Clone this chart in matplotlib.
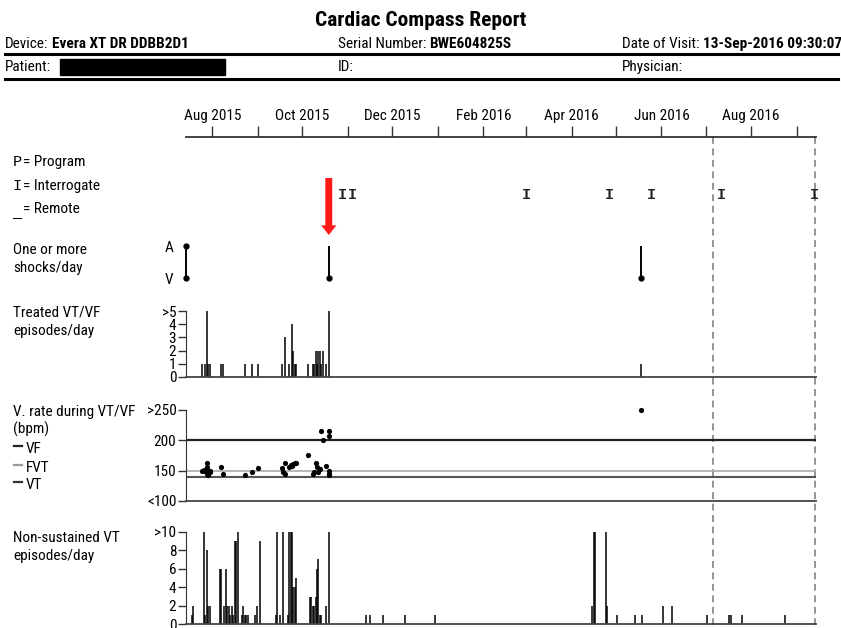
import matplotlib
matplotlib.use('Agg')
import matplotlib.pyplot as plt
import matplotlib.dates as mdates
from matplotlib import font_manager
from matplotlib.ticker import FuncFormatter
from matplotlib.patches import Rectangle
from matplotlib.lines import Line2D

# ---- data ----
start_date = '2015-07-14'
end_date = '2016-09-14'
dashed_dates = ['2016-07-06', '2016-09-13']
interrogate_dates = ['2015-10-28', '2015-11-04', '2016-03-01', '2016-04-27',
                     '2016-05-25', '2016-07-12', '2016-09-13']
arrow_date = '2015-10-19'

shock_dates = ['2015-10-19', '2016-05-18']

# treated VT/VF episodes per day (5 = ">5")
treated_dates = ['2015-07-25', '2015-07-27', '2015-07-28', '2015-07-29', '2015-07-30',
                 '2015-08-07', '2015-08-08', '2015-08-23', '2015-08-28', '2015-09-01',
                 '2015-09-17', '2015-09-19', '2015-09-22', '2015-09-24', '2015-09-25',
                 '2015-09-26', '2015-09-27', '2015-10-05', '2015-10-08', '2015-10-09',
                 '2015-10-10', '2015-10-11', '2015-10-12', '2015-10-13', '2015-10-14',
                 '2015-10-15', '2015-10-17', '2015-10-19', '2016-05-18']
treated_counts = [1, 1, 5, 1, 1,
                  1, 1, 1, 1, 1,
                  1, 3, 1, 4, 2,
                  1, 1, 1, 1, 1,
                  2, 1, 2, 2, 1,
                  2, 1, 5, 1]

# V. rate during VT/VF (bpm), 250 = ">250"
vrate_dates = ['2015-07-25', '2015-07-26', '2015-07-27', '2015-07-28', '2015-07-28',
               '2015-07-28', '2015-07-29', '2015-07-29', '2015-07-30', '2015-07-30',
               '2015-08-07', '2015-08-08', '2015-08-23', '2015-08-28', '2015-09-01',
               '2015-09-17', '2015-09-18', '2015-09-19', '2015-09-19', '2015-09-22',
               '2015-09-23', '2015-09-24', '2015-09-25', '2015-09-26', '2015-09-27',
               '2015-10-05', '2015-10-08', '2015-10-09', '2015-10-10', '2015-10-11',
               '2015-10-12', '2015-10-13', '2015-10-14', '2015-10-15', '2015-10-17',
               '2015-10-19', '2015-10-19', '2015-10-19', '2015-10-19', '2015-10-19',
               '2016-05-18']
vrate_bpm = [150, 151, 150, 163, 156,
             145, 150, 143, 150, 148,
             155, 145, 142, 147, 154,
             154, 148, 144, 163, 156,
             159, 157, 161, 162, 162,
             175, 145, 148, 163, 156,
             148, 152, 214, 200, 158,
             214, 207, 150, 145, 142,
             250]

# thresholds
vf_rate = 200
fvt_rate = 150
vt_rate = 140

# non-sustained VT episodes per day (10 = ">10")
nsvt_dates = ['2015-07-18', '2015-07-19', '2015-07-26', '2015-07-27', '2015-07-28',
              '2015-07-29', '2015-07-30', '2015-08-06', '2015-08-07', '2015-08-09',
              '2015-08-10', '2015-08-11', '2015-08-12', '2015-08-13', '2015-08-14',
              '2015-08-15', '2015-08-16', '2015-08-17', '2015-08-18', '2015-08-21',
              '2015-08-22', '2015-08-23', '2015-08-24', '2015-08-25', '2015-08-30',
              '2015-08-31', '2015-09-02', '2015-09-13', '2015-09-14', '2015-09-16',
              '2015-09-18', '2015-09-21', '2015-09-22', '2015-09-23', '2015-09-24',
              '2015-09-25', '2015-09-26', '2015-09-27', '2015-10-06', '2015-10-07',
              '2015-10-08', '2015-10-09', '2015-10-10', '2015-10-11', '2015-10-12',
              '2015-10-13', '2015-10-14', '2015-10-17', '2015-10-19', '2015-11-13',
              '2015-11-16', '2015-11-25', '2015-12-10', '2015-12-30', '2016-04-15',
              '2016-04-16', '2016-04-17', '2016-04-24', '2016-04-25', '2016-05-02',
              '2016-05-14', '2016-05-19', '2016-06-02', '2016-06-08', '2016-07-02',
              '2016-07-17', '2016-07-18', '2016-07-26', '2016-08-24']
nsvt_counts = [1, 2, 10, 1, 8,
               2, 2, 6, 6, 2,
               6, 2, 2, 1, 2,
               1, 9, 9, 10, 1,
               2, 1, 1, 1, 1,
               2, 9, 1, 10, 1,
               10, 1, 10, 10, 10,
               4, 4, 5, 3, 3,
               2, 2, 3, 6, 7,
               1, 1, 2, 10, 1,
               1, 1, 1, 1, 2,
               10, 10, 10, 2, 1,
               1, 1, 2, 2, 1,
               1, 1, 1, 1]

# ---- font: the report uses a narrow sans, pick the closest one installed ----
installed = font_manager.fontManager.ttflist
names = {f.name for f in installed}
FONT, STRETCH, FS = 'Liberation Sans', 'normal', 9.5
for cand in ['Liberation Sans Narrow', 'Roboto Condensed', 'Open Sans Condensed',
             'DejaVu Sans Condensed']:
    if cand in names:
        FONT, STRETCH, FS = cand, 'normal', 11
        break
else:
    for f in installed:
        if f.stretch == 'condensed' and f.name in ('DejaVu Sans', 'Roboto', 'Open Sans', 'Noto Sans', 'Inter'):
            FONT, STRETCH, FS = f.name, 'condensed', 10.5
            break

plt.rcParams['font.family'] = [FONT, 'DejaVu Sans']
plt.rcParams['font.stretch'] = STRETCH
plt.rcParams['font.size'] = FS
MONO = ['Liberation Mono', 'DejaVu Sans Mono']
W, H = 841, 628
fig = plt.figure(figsize=(W / 100, H / 100), dpi=100)


def fx(x):
    return x / W


def fy(y):
    return 1 - y / H


def txt(x, y, s, **kw):
    kw.setdefault('va', 'center')
    return fig.text(fx(x), fy(y), s, **kw)


def d(dates):
    return mdates.datestr2num(dates)


x0, x1 = d(start_date), d(end_date)


def panel(top, bottom):
    ax = fig.add_axes([fx(186), fy(bottom), 630 / W, (bottom - top) / H])
    ax.set_facecolor('none')
    ax.set_xlim(x0, x1)
    ax.set_xticks([])
    for s in ['top', 'right']:
        ax.spines[s].set_visible(False)
    ax.spines['left'].set_color('#333333')
    ax.spines['bottom'].set_color('#444444')
    ax.spines['bottom'].set_linewidth(1.3)
    ax.tick_params(axis='y', length=6, width=1, pad=1, labelsize=FS, color='#333333')
    return ax


# header
txt(421, 20, 'Cardiac Compass Report', ha='center', fontsize=FS * 1.4, fontweight='bold')
fig.canvas.draw()
renderer = fig.canvas.get_renderer()


def pair(x, y, label, value):
    t = txt(x, y, label)
    if value:
        bb = t.get_window_extent(renderer=renderer)
        txt(bb.x1 + 3, y, value, fontweight='bold')


pair(5, 44, 'Device:', 'Evera XT DR DDBB2D1')
pair(338, 44, 'Serial Number:', 'BWE604825S')
pair(622, 44, 'Date of Visit:', '13-Sep-2016 09:30:07')
pair(5, 67, 'Patient:', '')
pair(338, 67, 'ID:', '')
pair(622, 67, 'Physician:', '')
for yy in [54, 79]:
    fig.add_artist(Line2D([fx(5), fx(838)], [fy(yy), fy(yy)], transform=fig.transFigure,
                          color='black', lw=2.2))
fig.add_artist(Rectangle((fx(60), fy(75)), fx(225) - fx(60), 16 / H,
                         transform=fig.transFigure, color='black'))

# timeline axis, dashed lines, interrogations
tl = fig.add_axes([fx(186), fy(628), 630 / W, (628 - 137) / H])
tl.set_facecolor('none')
tl.set_xlim(x0, x1)
tl.set_ylim(137, 628)
tl.invert_yaxis()
for s in ['left', 'right', 'bottom']:
    tl.spines[s].set_visible(False)
tl.spines['top'].set_linewidth(1.3)
tl.spines['top'].set_color('#333333')
tl.set_yticks([])
tl.xaxis.tick_top()
tl.xaxis.set_major_locator(mdates.MonthLocator())


def month_label(v, pos):
    dt = mdates.num2date(v)
    return dt.strftime('%b %Y') if dt.month % 2 == 0 else ''


tl.xaxis.set_major_formatter(FuncFormatter(month_label))
tl.tick_params(axis='x', direction='out', length=8, width=1, pad=2, labelsize=FS, color='#333333')
tl.vlines(d(dashed_dates), 137, 628, colors='#777777', lw=1.1, linestyles=(0, (4.5, 3)))
for xi in d(interrogate_dates):
    tl.text(xi, 195, 'I', family=MONO, fontsize=11, fontweight='bold', ha='center', va='center',
            color='#222222')
ax_ = d(arrow_date)
tl.annotate('', xy=(ax_, 235), xytext=(ax_, 178),
            arrowprops=dict(facecolor='#ff1a1a', edgecolor='none', width=5, headwidth=11,
                            headlength=7, shrink=0))

# legend block
txt(13, 162, 'P', family=MONO)
txt(23, 162, '= Program')
txt(13, 186, 'I', family=MONO)
txt(23, 186, '= Interrogate')
txt(12, 213, '_', family=MONO)
txt(23, 209, '= Remote')

# shocks
txt(13, 250, 'One or more')
txt(13, 268, 'shocks/day')
sh = panel(246, 278)
sh.set_ylim(0, 1)
for s in sh.spines.values():
    s.set_visible(False)
sx = d(shock_dates)
sh.vlines(sx, 0, 1, color='black', lw=1.4)
sh.plot(sx, [0] * len(sx), 'o', color='black', ms=3.5, clip_on=False)
sh.plot([x0, x0], [0, 1], '-o', color='black', ms=3.5, lw=1.4, clip_on=False)
sh.set_yticks([0, 1], ['V', 'A'])
sh.tick_params(axis='y', length=0, pad=9)

# treated VT/VF
txt(13, 313, 'Treated VT/VF')
txt(13, 331, 'episodes/day')
tr = panel(311, 377)
tr.set_ylim(0, 5)
tr.vlines(d(treated_dates), 0, treated_counts, color='black', lw=1.1)
tr.set_yticks(range(6), ['0', '1', '2', '3', '4', '>5'])

# V. rate
txt(13, 412, 'V. rate during VT/VF')
txt(13, 429, '(bpm)')
for yy, name, c in [(446, 'VF', '#222222'), (465, 'FVT', '#999999'), (482, 'VT', '#333333')]:
    fig.add_artist(Line2D([fx(14), fx(22)], [fy(yy), fy(yy)], transform=fig.transFigure,
                          color=c, lw=1.6))
    txt(26, yy + 3, name)
vr = panel(409.5, 501)
vr.set_ylim(100, 250)
vr.axhline(vf_rate, color='#222222', lw=1.6)
vr.axhline(fvt_rate, color='#aaaaaa', lw=1.2)
vr.axhline(vt_rate, color='#555555', lw=1.5)
vr.scatter(d(vrate_dates), vrate_bpm, s=14, color='black', zorder=3, clip_on=False, linewidths=0)
vr.set_yticks([100, 150, 200, 250], ['<100', '150', '200', '>250'])

# non-sustained VT
txt(13, 538, 'Non-sustained VT')
txt(13, 556, 'episodes/day')
ns = panel(531.7, 624.3)
ns.set_ylim(0, 10)
ns.vlines(d(nsvt_dates), 0, nsvt_counts, color='black', lw=1.1)
ns.set_yticks([0, 2, 4, 6, 8, 10], ['0', '2', '4', '6', '8', '>10'])

fig.savefig('out.png', dpi=100)
